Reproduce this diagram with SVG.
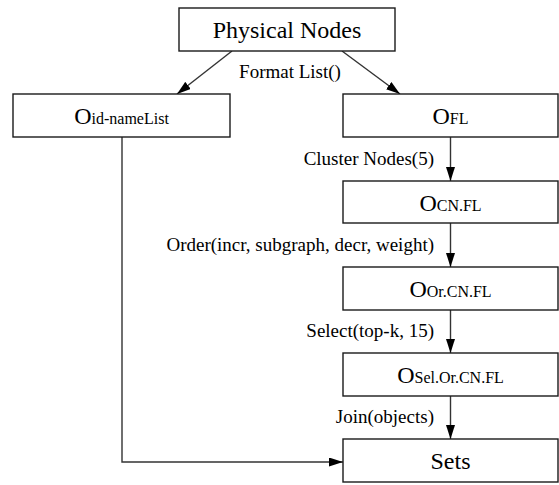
<svg xmlns="http://www.w3.org/2000/svg" width="559" height="485" viewBox="0 0 559 485" font-family="'Liberation Serif', 'DejaVu Serif', serif">
  <defs>
    <marker id="arrow" viewBox="0 0 14 9" refX="14" refY="4.5" markerWidth="14" markerHeight="9" markerUnits="userSpaceOnUse" orient="auto">
      <path d="M0,0 L14,4.5 L0,9 Z" fill="#000"/>
    </marker>
    <style>
      .box { fill: #fff; stroke: #1a1a1a; stroke-width: 1.4; }
      .edge { fill: none; stroke: #333; stroke-width: 1.4; marker-end: url(#arrow); }
      text { font-family: 'Liberation Serif', 'DejaVu Serif', serif; }
      .lbl { font-size: 19px; fill: #000; }
      .title { font-size: 24px; fill: #000; text-anchor: middle; }
      .sub { font-size: 16px; }
    </style>
  </defs>
  <rect width="559" height="485" fill="#fff"/>

  <g id="connectors">
    <path class="edge" d="M232,51 L177,94"/>
    <path class="edge" d="M342,51 L400,94"/>
    <path class="edge" d="M450.5,137 L450.5,181"/>
    <path class="edge" d="M450.5,223 L450.5,267"/>
    <path class="edge" d="M450.5,310 L450.5,353"/>
    <path class="edge" d="M450.5,396 L450.5,439"/>
    <path class="edge" d="M122,137 L122,462 L343,462"/>
    <text class="lbl" x="290" y="78" text-anchor="middle">Format List()</text>
    <text class="lbl" x="434" y="165" text-anchor="end">Cluster Nodes(5)</text>
    <text class="lbl" x="434" y="251" text-anchor="end">Order(incr, subgraph, decr, weight)</text>
    <text class="lbl" x="434" y="337" text-anchor="end">Select(top-k, 15)</text>
    <text class="lbl" x="434" y="423" text-anchor="end">Join(objects)</text>
  </g>

  <g id="physical-nodes">
    <rect class="box" x="179" y="8" width="216" height="43"/>
    <text class="title" x="287" y="38">Physical Nodes</text>
  </g>

  <g id="o-id-namelist">
    <rect class="box" x="13" y="94" width="217" height="43"/>
    <text class="title" x="121.5" y="124">O<tspan class="sub">id-nameList</tspan></text>
  </g>

  <g id="o-fl">
    <rect class="box" x="343" y="94" width="215" height="43"/>
    <text class="title" x="450.5" y="124">O<tspan class="sub">FL</tspan></text>
  </g>

  <g id="o-cn-fl">
    <rect class="box" x="343" y="181" width="215" height="42"/>
    <text class="title" x="450.5" y="211">O<tspan class="sub">CN.FL</tspan></text>
  </g>

  <g id="o-or-cn-fl">
    <rect class="box" x="343" y="267" width="215" height="43"/>
    <text class="title" x="450.5" y="297">O<tspan class="sub">Or.CN.FL</tspan></text>
  </g>

  <g id="o-sel-or-cn-fl">
    <rect class="box" x="343" y="353" width="215" height="43"/>
    <text class="title" x="450.5" y="383">O<tspan class="sub">Sel.Or.CN.FL</tspan></text>
  </g>

  <g id="sets">
    <rect class="box" x="343" y="439" width="215" height="43"/>
    <text class="title" x="450.5" y="469">Sets</text>
  </g>
</svg>
